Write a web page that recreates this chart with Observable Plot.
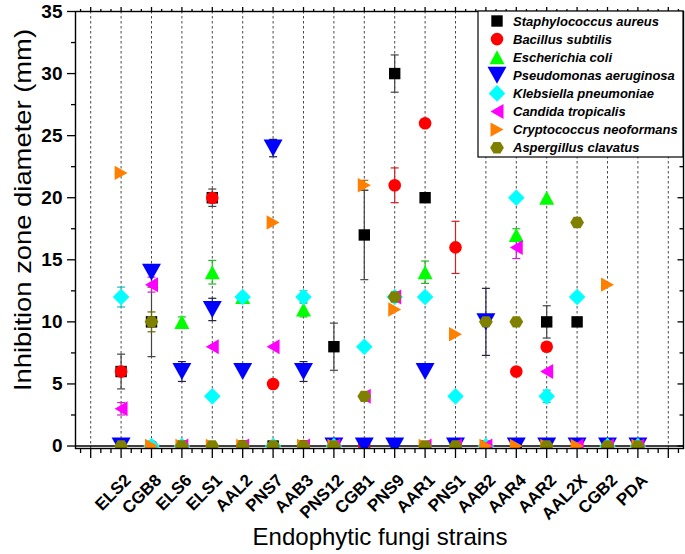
<!DOCTYPE html>
<html><head><meta charset="utf-8">
<script src="https://cdn.jsdelivr.net/npm/d3@7"></script>
<script src="https://cdn.jsdelivr.net/npm/@observablehq/plot@0.6"></script>
<style>body{margin:0;background:#fff;} #chart svg{font-family:"Liberation Sans",Arial,sans-serif;}</style>
</head><body><div id="chart"></div>
<script>
// ---- data ----
const strains = ["ELS2","CGB8","ELS6","ELS1","AAL2","PNS7","AAB3","PNS12","CGB1","PNS9","AAR1","PNS1","AAB2","AAR4","AAR2","AAL2X","CGB2","PDA"];
const seriesNames = ["Staphylococcus aureus","Bacillus subtilis","Escherichia coli","Pseudomonas aeruginosa","Klebsiella pneumoniae","Candida tropicalis","Cryptococcus neoformans","Aspergillus clavatus"];

const staph    = [6,10,0,20,0,0,0,8,17,30,20,0,0,0,10,10,0,0];
const bacillus = [6,0,0,20,0,5,0,0,0,21,26,16,0,6,8,0,0,0];
const ecoli    = [0,0,10,14,12,0,11,0,0,0,14,0,0,17,20,0,0,0];
const pseudo   = [0,14,6,11,6,24,6,0,0,0,6,0,10,0,0,0,0,0];
const kleb     = [12,0,0,4,12,0,12,0,8,12,12,4,0,20,4,12,0,0];
const candida  = [3,13,0,8,0,8,0,0,4,12,0,0,0,16,6,0,0,0];
const crypto   = [22,0,0,0,0,18,0,0,21,11,0,9,0,0,0,0,13,0];
const asperg   = [0,10,0,0,0,0,0,0,4,12,0,0,10,10,0,18,0,0];

const staphErr    = [1.4,2.8,0,0.7,0,0,0,1.9,3.6,1.5,0,0,0,0,1.3,0,0,0];
const bacillusErr = [0,0,0,0.4,0,0,0,0,0,1.4,0.3,2.1,0,0,0,0,0,0];
const ecoliErr    = [0,0,0.4,0.95,0,0,0.6,0,0,0,0.9,0,0,0.5,0,0,0,0];
const pseudoErr   = [0,0,0.8,0.9,0,0.7,0.8,0,0,0,0,0,2.7,0,0,0,0,0];
const klebErr     = [0.8,0,0,0,0.3,0,0.5,0,0,0.4,0,0,0,0,0.5,0,0,0];
const candidaErr  = [0.5,0.6,0,0,0,0,0,0,0,0,0,0,0,0.9,0,0,0,0];
const cryptoErr   = [0,0,0,0,0,0,0,0,0.4,0,0,0,0,0,0,0,0,0];
const aspergErr   = [0,0.8,0,0,0,0,0,0,0,0,0,0,0,0,0,0.3,0,0];

const yMajorTicks = [0,5,10,15,20,25,30,35];
const yMinorTicks = [2.5,7.5,12.5,17.5,22.5,27.5,32.5];

// ---- styling ----
const colors = ["#000000","#ff0000","#00ff00","#0000ff","#00ffff","#ff00ff","#ff8000","#808000"];
const errColors = ["#444444","#cc2222","#22bb22","#222244","#22bbbb","#cc22cc","#cc6600","#666600"];
const seriesValues = [staph,bacillus,ecoli,pseudo,kleb,candida,crypto,asperg];
const seriesErrors = [staphErr,bacillusErr,ecoliErr,pseudoErr,klebErr,candidaErr,cryptoErr,aspergErr];

const U = s => Math.sqrt(s / Math.PI);
const symSquare = {draw(c,s){const r=U(s)*0.95; c.moveTo(-r,-r); c.lineTo(r,-r); c.lineTo(r,r); c.lineTo(-r,r); c.closePath();}};
const symCircle = {draw(c,s){const r=U(s)*1.05; c.moveTo(r,0); c.arc(0,0,r,0,2*Math.PI);}};
const symUp = {draw(c,s){const r=U(s), w=1.25*r, h=1.17*r; c.moveTo(0,-h); c.lineTo(w,h); c.lineTo(-w,h); c.closePath();}};
const symDown = {draw(c,s){const r=U(s), w=1.58*r, h=1.42*r; c.moveTo(0,h); c.lineTo(w,-h); c.lineTo(-w,-h); c.closePath();}};
const symDiamond = {draw(c,s){const r=U(s)*1.38; c.moveTo(0,-r); c.lineTo(r,0); c.lineTo(0,r); c.lineTo(-r,0); c.closePath();}};
const symLeft = {draw(c,s){const r=U(s), w=1.08*r, h=1.25*r; c.moveTo(-w,0); c.lineTo(w,-h); c.lineTo(w,h); c.closePath();}};
const symRight = {draw(c,s){const r=U(s), w=1.08*r, h=1.2*r; c.moveTo(w,0); c.lineTo(-w,-h); c.lineTo(-w,h); c.closePath();}};
const symHex = {draw(c,s){const r=U(s)*1.15; for(let i=0;i<6;i++){const a=i*Math.PI/3; if(i===0) c.moveTo(r,0); else c.lineTo(r*Math.cos(a), r*0.95*Math.sin(a));} c.closePath();}};
const symbols = [symSquare,symCircle,symUp,symDown,symDiamond,symLeft,symRight,symHex];
const symCap = {draw(c){c.moveTo(-4,0); c.lineTo(4,0);}};
const symTickInMajor = {draw(c){c.moveTo(-6,0); c.lineTo(0,0);}};
const symTickInMinor = {draw(c){c.moveTo(-4,0); c.lineTo(0,0);}};

const points = seriesNames.flatMap((name, si) => strains.map((s, i) => ({si, idx: i + 1, v: seriesValues[si][i], e: seriesErrors[si][i]})));
const errs = points.filter(p => p.e > 0);

const xMajor = d3.range(0, 20);
const xMinor = d3.range(0, 20).flatMap(i => [i - 1/3, i + 1/3]).filter(v => v > -0.5 && v < 19.5);

const marks = [
  Plot.ruleX(xMajor, {stroke: "#333", strokeWidth: 0.9, strokeDasharray: "2.5,2.5"}),
  Plot.ruleY([0], {stroke: "#000", strokeWidth: 1.4}),
  Plot.ruleX(errs, {x: "idx", y1: d => d.v - d.e, y2: d => d.v + d.e, stroke: d => errColors[d.si], strokeWidth: 1.2}),
  Plot.dot(errs, {x: "idx", y: d => d.v - d.e, symbol: symCap, fill: "none", stroke: d => errColors[d.si], strokeWidth: 1.2}),
  Plot.dot(errs, {x: "idx", y: d => d.v + d.e, symbol: symCap, fill: "none", stroke: d => errColors[d.si], strokeWidth: 1.2}),
  ...seriesNames.map((n, si) => Plot.dot(points.filter(p => p.si === si), {x: "idx", y: "v", symbol: symbols[si], r: 6, fill: colors[si], stroke: "none", clip: true})),
  Plot.frame({stroke: "#000", strokeWidth: 1.4}),
  Plot.axisX(xMajor, {anchor: "bottom", tickSize: 10, tickFormat: () => "", label: null, strokeWidth: 1.3}),
  Plot.axisX(xMinor, {anchor: "bottom", tickSize: 5, tickFormat: () => "", label: null, strokeWidth: 1.3}),
  Plot.axisX(d3.range(1, 19), {anchor: "bottom", tickSize: 0, tickPadding: 29, dx: 7, tickRotate: -45, tickFormat: i => strains[i - 1], fontSize: 17, fontWeight: "bold", label: null}),
  Plot.axisX(xMajor, {anchor: "top", tickSize: 5, tickFormat: () => "", label: null, strokeWidth: 1.3}),
  Plot.axisX(xMinor, {anchor: "top", tickSize: 3, tickFormat: () => "", label: null, strokeWidth: 1.3}),
  Plot.axisY(yMajorTicks, {anchor: "left", tickSize: 8, tickPadding: 5, fontSize: 19, fontWeight: "bold", label: null, strokeWidth: 1.3}),
  Plot.axisY(yMinorTicks, {anchor: "left", tickSize: 4, tickFormat: () => "", label: null, strokeWidth: 1.3}),
  Plot.dot(yMajorTicks, {y: d => d, frameAnchor: "right", symbol: symTickInMajor, fill: "none", stroke: "#000", strokeWidth: 1.3}),
  Plot.dot(yMinorTicks, {y: d => d, frameAnchor: "right", symbol: symTickInMinor, fill: "none", stroke: "#000", strokeWidth: 1.3})
];

const chart = Plot.plot({
  width: 685, height: 554,
  marginLeft: 75, marginRight: 2, marginTop: 11, marginBottom: 106,
  style: {fontFamily: "Liberation Sans, Arial, sans-serif", color: "#000", background: "#fff", overflow: "hidden"},
  x: {type: "linear", domain: [-0.5, 19.5], axis: null},
  y: {type: "linear", domain: [-0.2, 35], axis: null},
  marks
});
document.getElementById("chart").append(chart);

// titles and legend
const svg = d3.select(chart);
svg.append("text").attr("transform", "translate(22,210) rotate(-90)")
  .attr("text-anchor", "middle").attr("dominant-baseline", "central")
  .attr("font-size", 24).attr("textLength", 362).attr("lengthAdjust", "spacingAndGlyphs")
  .attr("fill", "#000").text("Inhibition zone diameter (mm)");
svg.append("text").attr("x", 380).attr("y", 545).attr("text-anchor", "middle")
  .attr("font-size", 24).attr("fill", "#000").text("Endophytic fungi strains");

const leg = svg.append("g");
leg.append("rect").attr("x", 478).attr("y", 11).attr("width", 205).attr("height", 146)
  .attr("fill", "#fff").attr("stroke", "#000").attr("stroke-width", 1.2);
seriesNames.forEach((n, i) => {
  const y = 21 + i * 18.1;
  leg.append("path").attr("transform", `translate(497,${y})`)
    .attr("d", d3.symbol(symbols[i], Math.PI * 36)()).attr("fill", colors[i]);
  leg.append("text").attr("x", 513).attr("y", y).attr("dy", "0.36em")
    .attr("text-anchor", "start")
    .attr("font-size", 13).attr("font-weight", "bold").attr("font-style", "italic")
    .attr("fill", "#000").text(n);
});
</script>
</body></html>
